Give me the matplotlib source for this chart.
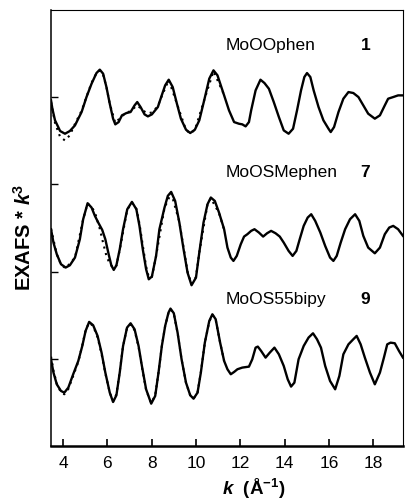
import matplotlib
matplotlib.use('Agg')
import matplotlib.pyplot as plt

plt.rcParams['font.family'] = ['Liberation Sans', 'DejaVu Sans']
plt.rcParams['mathtext.fontset'] = 'custom'
plt.rcParams['mathtext.rm'] = 'Liberation Sans'
plt.rcParams['mathtext.bf'] = 'Liberation Sans:bold'
plt.rcParams['mathtext.it'] = 'Liberation Sans:italic'
plt.rcParams['mathtext.bfit'] = 'Liberation Sans:italic:bold'

# sample names and numbers
names = ['MoOOphen', 'MoOSMephen', 'MoOS55bipy']
numbers = ['1', '7', '9']
offsets = [30, 14, 0]

# MoOOphen (1) - experiment
k1 = [3.46, 3.52, 3.64, 3.87, 4.09, 4.31, 4.54, 4.69, 4.84, 5.06, 5.29, 5.51, 5.66, 5.81, 5.96,
      6.11, 6.26, 6.36, 6.51, 6.66, 6.86, 7.05, 7.23, 7.35, 7.50, 7.68, 7.83, 8.01, 8.28, 8.43,
      8.61, 8.77, 8.95, 9.14, 9.32, 9.55, 9.74, 9.95, 10.15, 10.37, 10.60, 10.79, 10.97, 11.27,
      11.49, 11.72, 11.94, 12.09, 12.24, 12.39, 12.49, 12.69, 12.91, 13.09, 13.29, 13.51, 13.74,
      13.96, 14.18, 14.38, 14.56, 14.74, 14.89, 15.01, 15.16, 15.31, 15.53, 15.75, 15.98, 16.08,
      16.23, 16.43, 16.65, 16.88, 17.10, 17.33, 17.55, 17.77, 18.07, 18.30, 18.52, 18.67, 18.90,
      19.12, 19.34]
y1 = [-0.42, -1.37, -2.70, -3.92, -4.23, -3.92, -3.28, -2.51, -1.75, -0.04, 1.49, 2.70, 3.09, 2.63,
      1.10, -0.80, -2.51, -3.16, -2.90, -2.13, -1.87, -1.75, -0.99, -0.61, -1.18, -2.02, -2.25,
      -2.02, -1.18, -0.04, 1.30, 1.94, 1.10, -0.80, -2.51, -3.77, -4.15, -3.77, -2.70, -0.42, 2.06,
      3.01, 2.44, 0.15, -1.56, -2.90, -3.09, -3.16, -3.39, -2.90, -1.56, 0.72, 1.94, 1.56, 0.91,
      -0.61, -2.32, -3.85, -4.23, -3.66, -1.56, 0.72, 2.25, 2.70, 2.25, 0.72, -1.18, -2.70, -3.66,
      -4.04, -3.47, -1.75, -0.23, 0.53, 0.42, -0.04, -0.99, -1.94, -2.51, -2.13, -0.99, -0.23,
      -0.04, 0.15, 0.15]

# MoOOphen (1) - fit
k1f = [3.46, 3.64, 3.87, 4.09, 4.31, 4.54, 4.84, 5.06, 5.29, 5.51, 5.66, 5.81, 5.96, 6.11, 6.36,
       6.66, 6.86, 7.05, 7.35, 7.50, 7.68, 7.83, 8.01, 8.28, 8.43, 8.77, 9.14, 9.55, 9.74, 9.95,
       10.37, 10.79, 11.27]
y1f = [-0.6, -3.0, -4.6, -5.0, -4.4, -3.1, -1.6, 0.0, 1.6, 2.7, 3.0, 2.5, 1.1, -0.8, -3.0,
       -2.2, -1.9, -1.6, -1.0, -1.3, -1.7, -1.9, -1.8, -1.1, -0.1, 1.9, -0.8, -3.8, -4.2, -3.8,
       -0.4, 2.9, 0.2]

# MoOSMephen (7) - experiment
k2 = [3.46, 3.57, 3.72, 3.91, 4.12, 4.31, 4.54, 4.76, 4.91, 5.11, 5.29, 5.44, 5.59, 5.77, 5.91,
      6.06, 6.18, 6.29, 6.41, 6.56, 6.71, 6.90, 7.11, 7.31, 7.45, 7.60, 7.75, 7.87, 8.01, 8.20,
      8.35, 8.58, 8.73, 8.88, 9.06, 9.25, 9.44, 9.62, 9.80, 10.00, 10.15, 10.34, 10.52, 10.67,
      10.85, 11.04, 11.27, 11.42, 11.57, 11.69, 11.84, 12.02, 12.17, 12.32, 12.49, 12.64, 12.84,
      13.03, 13.21, 13.39, 13.59, 13.78, 13.96, 14.18, 14.36, 14.53, 14.68, 14.86, 15.04, 15.20,
      15.38, 15.61, 15.83, 16.05, 16.20, 16.35, 16.53, 16.73, 16.95, 17.18, 17.37, 17.55, 17.77,
      18.07, 18.30, 18.52, 18.72, 18.90, 19.12, 19.34]
y2 = [0.86, -0.67, -2.00, -3.14, -3.52, -3.26, -2.38, -0.29, 2.00, 3.83, 3.33, 2.38, 1.62, 0.78,
      -0.29, -2.00, -3.26, -3.79, -3.26, -1.43, 0.86, 3.14, 3.98, 3.14, 1.24, -1.43, -3.71, -4.86,
      -4.55, -2.19, 0.86, 3.33, 4.67, 5.12, 4.09, 1.62, -1.43, -4.10, -5.54, -4.67, -1.81, 1.62,
      3.71, 4.48, 4.09, 2.76, 0.86, -1.24, -2.38, -2.76, -2.19, -0.86, 0.02, 0.29, 0.67, 0.86,
      0.48, 0.02, 0.40, 0.67, 0.40, 0.02, -0.67, -1.62, -2.19, -1.62, -0.29, 1.24, 2.19, 2.57,
      1.81, 0.48, -1.05, -2.38, -2.76, -2.19, -0.67, 0.86, 2.00, 2.57, 1.81, 0.10, -1.24, -1.89,
      -1.24, 0.29, 1.05, 1.24, 0.86, 0.10]

# MoOSMephen (7) - fit
k2f = [3.46, 3.72, 3.91, 4.12, 4.54, 4.91, 5.11, 5.29, 5.44, 5.66, 5.81, 5.96, 6.11, 6.29,
       6.41, 6.56, 6.90, 7.11, 7.31, 7.45, 7.60, 7.75, 7.87, 8.01, 8.20, 8.58, 8.88, 9.25, 9.62,
       9.80, 10.00, 10.15, 10.52, 10.67, 11.04, 11.27]
y2f = [0.9, -2.0, -3.2, -3.6, -2.4, 2.0, 3.8, 3.4, 2.8, 0.9, -0.7, -2.2, -3.1, -3.6,
       -3.3, -1.5, 3.1, 3.9, 3.2, 1.5, -1.0, -3.4, -4.6, -4.6, -2.2, 3.3, 5.0, 1.7, -4.0,
       -5.4, -4.6, -1.8, 3.7, 4.4, 2.7, 0.8]

# MoOS55bipy (9) - experiment
k3 = [3.46, 3.57, 3.72, 3.91, 4.06, 4.24, 4.46, 4.69, 4.87, 5.02, 5.18, 5.36, 5.56, 5.74, 5.91,
      6.11, 6.26, 6.41, 6.56, 6.71, 6.89, 7.05, 7.23, 7.41, 7.56, 7.75, 7.98, 8.16, 8.31, 8.46,
      8.61, 8.76, 8.85, 9.00, 9.17, 9.35, 9.55, 9.74, 9.89, 10.07, 10.22, 10.40, 10.60, 10.74,
      10.89, 11.09, 11.27, 11.42, 11.57, 11.72, 11.87, 12.09, 12.39, 12.54, 12.69, 12.79, 12.94,
      13.14, 13.33, 13.54, 13.74, 13.96, 14.14, 14.29, 14.44, 14.63, 14.86, 15.08, 15.28, 15.46,
      15.64, 15.83, 16.05, 16.28, 16.47, 16.65, 16.88, 17.10, 17.25, 17.43, 17.62, 17.85, 18.07,
      18.30, 18.48, 18.63, 18.78, 18.97, 19.16, 19.34]
y3 = [0.00, -1.52, -2.86, -3.62, -3.81, -3.24, -1.71, -0.19, 1.52, 3.24, 4.27, 3.89, 2.67, 0.76,
      -1.52, -3.81, -4.88, -4.11, -1.52, 1.52, 3.62, 4.11, 3.43, 1.52, -0.76, -3.43, -5.07, -4.19,
      -1.52, 1.52, 3.81, 5.33, 5.79, 5.26, 3.05, 0.00, -2.67, -4.11, -4.50, -3.81, -1.52, 1.90,
      4.38, 5.14, 4.57, 1.90, -0.19, -1.14, -1.71, -1.45, -1.14, -0.95, -0.84, 0.00, 1.33, 1.45,
      0.95, 0.19, 0.76, 1.33, 0.57, -0.76, -2.29, -3.12, -2.67, 0.00, 1.52, 2.48, 2.97, 2.29,
      1.33, -0.76, -2.48, -3.43, -1.90, 0.57, 1.71, 2.29, 2.67, 1.71, 0.19, -1.52, -2.86, -1.52,
      0.19, 1.71, 1.90, 1.83, 0.95, 0.19]

# MoOS55bipy (9) - fit
k3f = [3.46, 3.57, 3.72, 3.91, 4.06, 4.24, 4.46, 4.69, 4.87, 5.02, 5.18, 5.36, 5.56, 5.74,
       5.91, 6.11, 6.26, 6.41, 6.56, 6.71, 6.89, 7.05, 7.23, 7.41, 7.56, 7.75, 7.98, 8.16, 8.31,
       8.46, 8.61, 8.76, 8.85, 9.00, 9.17, 9.35, 9.55, 9.74, 9.89, 10.07, 10.22, 10.40, 10.60,
       10.74, 10.89, 11.09, 11.27]
y3f = [0.3, -1.3, -2.8, -3.8, -4.0, -3.4, -1.9, -0.3, 1.6, 3.3, 4.2, 3.8, 2.5, 0.6,
       -1.6, -3.8, -4.8, -4.0, -1.4, 1.5, 3.6, 4.0, 3.3, 1.4, -0.9, -3.5, -5.0, -4.1, -1.5,
       1.5, 3.8, 5.3, 5.7, 5.2, 3.0, 0.0, -2.7, -4.1, -4.5, -3.8, -1.5, 1.9, 4.3, 5.1, 4.5,
       1.9, -0.2]

k_ticks = [4, 6, 8, 10, 12, 14, 16, 18]
y_ticks = [0, 10, 20, 30]

fig = plt.figure(figsize=(4.05, 5.02), dpi=100)
ax = fig.add_axes([0.126, 0.109, 0.869, 0.869])

data = [(k1, y1, k1f, y1f), (k2, y2, k2f, y2f), (k3, y3, k3f, y3f)]
for (k, y, kf, yf), off in zip(data, offsets):
    ax.plot(kf, [v + off for v in yf], color='black', lw=1.5, linestyle=(0, (1, 2.2)))
    ax.plot(k, [v + off for v in y], color='black', lw=1.7)

# labels for each trace
label_y = [36.0, 21.4, 6.9]
for name, num, ly in zip(names, numbers, label_y):
    ax.text(11.36, ly, name, fontsize=12.5, va='center', ha='left')
    ax.text(17.65, ly, num, fontsize=12.5, fontweight='bold', va='center', ha='center')

ax.set_xlim(3.46, 19.34)
ax.set_ylim(-9.94, 39.9)
ax.set_xticks(k_ticks)
ax.set_yticks(y_ticks)
ax.set_yticklabels([])
ax.tick_params(axis='x', direction='in', length=5, width=1.2, labelsize=12.5, pad=6)
ax.tick_params(axis='y', direction='in', length=5, width=1.0)

ax.spines['bottom'].set_linewidth(1.8)
ax.spines['left'].set_linewidth(1.1)
ax.spines['top'].set_linewidth(0.8)
ax.spines['right'].set_linewidth(0.8)

ax.set_xlabel(r'$\mathbfit{k}$  ($\mathbf{\AA}^{\mathbf{-1}}$)', fontsize=13.5, fontweight='bold')
ax.xaxis.set_label_coords(0.577, -0.068)
ax.set_ylabel(r'EXAFS * $\mathbfit{k}^{\mathbf{3}}$', fontsize=14.5, fontweight='bold')
ax.yaxis.set_label_coords(-0.045, 0.48)

fig.savefig('out.png', dpi=100)
